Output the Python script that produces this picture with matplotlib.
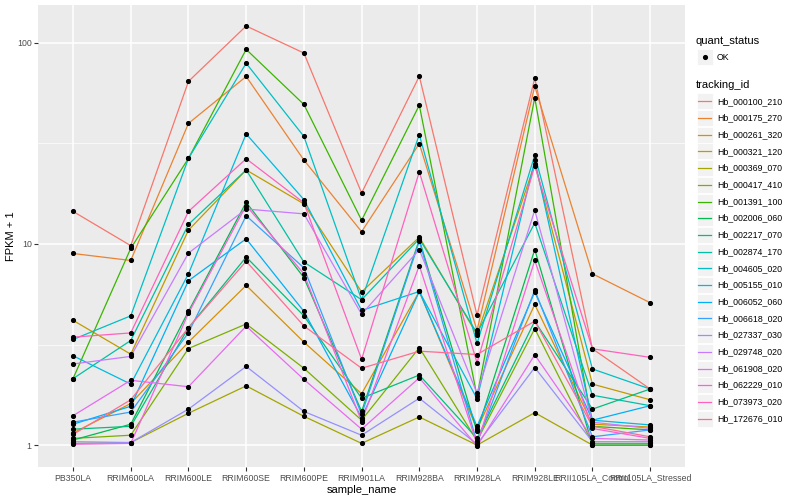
import numpy as np
from matplotlib import pyplot as plt
from matplotlib.lines import Line2D
from matplotlib.patches import Rectangle

plt.rcParams['font.family'] = ['Liberation Sans', 'DejaVu Sans']

samples = ["PB350LA", "RRIM600LA", "RRIM600LE", "RRIM600SE", "RRIM600PE",
           "RRIM901LA", "RRIM928BA", "RRIM928LA", "RRIM928LE",
           "RRII105LA_Control", "RRII105LA_Stressed"]

tracking_ids = ["Hb_000100_210", "Hb_000175_270", "Hb_000261_320", "Hb_000321_120",
                "Hb_000369_070", "Hb_000417_410", "Hb_001391_100", "Hb_002006_060",
                "Hb_002217_070", "Hb_002874_170", "Hb_004605_020", "Hb_005155_010",
                "Hb_006052_060", "Hb_006618_020", "Hb_027337_030", "Hb_029748_020",
                "Hb_061908_020", "Hb_062229_010", "Hb_073973_020", "Hb_172676_010"]

# FPKM + 1, one row per tracking_id, one column per sample
fpkm = [
    [14.5, 9.8, 64.2, 121, 88.8, 17.9, 68.1, 4.42, 66.6, 3.01, 1.90],
    [8.96, 8.27, 39.7, 67.9, 26.1, 11.5, 31.5, 3.72, 60.7, 7.1, 5.1],
    [1.15, 1.61, 3.25, 6.22, 3.25, 1.80, 5.8, 1.20, 5.0, 1.27, 1.23],
    [4.17, 2.83, 11.7, 23.3, 15.8, 5.77, 10.8, 3.54, 25.0, 2.01, 1.68],
    [1.02, 1.03, 1.44, 1.97, 1.39, 1.02, 1.38, 1.00, 1.45, 1.00, 1.00],
    [1.08, 1.12, 3.02, 4.0, 2.41, 1.33, 3.05, 1.05, 3.79, 1.02, 1.02],
    [2.14, 9.5, 26.6, 92.6, 49.3, 13.1, 48.9, 1.75, 53.3, 1.24, 1.19],
    [1.06, 1.27, 4.62, 16.1, 6.8, 1.47, 10.5, 1.17, 9.37, 1.00, 1.00],
    [1.20, 1.24, 3.83, 8.6, 4.39, 1.71, 2.23, 1.08, 4.13, 1.51, 1.90],
    [2.14, 3.31, 12.5, 23.3, 8.12, 5.28, 10.6, 3.6, 12.7, 1.77, 1.57],
    [3.35, 4.39, 26.6, 79, 34.2, 5.28, 34.9, 3.2, 27.6, 2.39, 1.90],
    [2.78, 2.01, 7.1, 35.2, 16.6, 4.67, 5.8, 1.70, 26.0, 1.33, 1.26],
    [1.27, 1.56, 6.56, 10.6, 4.62, 1.37, 5.8, 1.24, 5.77, 1.33, 1.57],
    [1.30, 1.46, 3.62, 13.8, 7.6, 1.42, 10.3, 1.03, 5.9, 1.10, 1.19],
    [1.04, 1.03, 1.51, 2.46, 1.47, 1.12, 1.71, 1.01, 2.43, 1.04, 1.04],
    [2.53, 2.76, 9.0, 14.9, 14.1, 4.47, 9.37, 1.81, 14.7, 1.30, 1.21],
    [1.40, 2.10, 1.95, 3.9, 2.12, 1.20, 2.16, 0.99, 2.81, 1.08, 1.06],
    [1.01, 1.02, 4.52, 15.5, 7.1, 1.31, 7.8, 1.01, 8.27, 1.21, 1.08],
    [3.44, 3.61, 14.5, 26.5, 16.0, 2.67, 22.8, 2.57, 24.4, 3.01, 2.73],
    [1.13, 1.68, 3.83, 8.2, 3.91, 2.41, 2.93, 2.82, 4.13, 1.24, 1.10],
]

colors = ["#F8766D", "#EA8331", "#D89000", "#C09B00", "#A3A500", "#7CAE00",
          "#39B600", "#00BB4E", "#00BF7D", "#00C1A3", "#00BFC4", "#00BAE0",
          "#00B0F6", "#35A2FF", "#9590FF", "#C77CFF", "#E76BF3", "#FA62DB",
          "#FF62BC", "#FF6C91"]

W, H = 800, 500
fig = plt.figure(figsize=(8, 5), dpi=100)
ax = fig.add_axes([0.048, 0.066, 0.808, 0.924])
ax.set_facecolor("#EBEBEB")

x = np.arange(1, len(samples) + 1)
for vals, c in zip(fpkm, colors):
    ax.plot(x, vals, color=c, lw=0.9, zorder=3)
for vals in fpkm:
    ax.plot(x, vals, ls="none", marker="o", ms=2.7, color="black", zorder=4)

ax.set_yscale("log")
ymin, ymax = 0.99, 121
lo, hi = np.log10(ymin), np.log10(ymax)
pad = (hi - lo) * 0.05
ax.set_ylim(10 ** (lo - pad), 10 ** (hi + pad))
ax.set_xlim(0.4, len(samples) + 0.6)

ax.set_yticks([1, 10, 100])
ax.set_yticklabels(["1", "10", "100"])
ax.set_yticks([10 ** 0.5, 10 ** 1.5], minor=True)
ax.yaxis.set_minor_formatter(plt.NullFormatter())
ax.set_xticks(x)
ax.set_xticklabels(samples)

ax.grid(True, which="major", color="white", lw=1.1, zorder=0)
ax.grid(True, which="minor", axis="y", color="white", lw=0.5, zorder=0)
ax.set_axisbelow(True)
for s in ax.spines.values():
    s.set_visible(False)
ax.tick_params(axis="both", which="major", length=2.8, width=0.8, color="#333333",
               labelsize=6.3, labelcolor="#4D4D4D", pad=2)
ax.tick_params(axis="y", which="minor", length=0)

ax.set_xlabel("sample_name", fontsize=8, labelpad=2)
ax.set_ylabel("FPKM + 1", fontsize=8)
ax.yaxis.set_label_coords(-0.034, 0.5)


# legends, drawn by hand in pixel positions (ggplot style grey keys)
def fx(px):
    return px / W


def fy(py):
    return 1 - py / H


key_x, key_w, key_h = 697, 16, 16
text_x = 717

fig.text(fx(696), fy(40.5), "quant_status", fontsize=8, va="center", ha="left")
fig.add_artist(Rectangle((fx(key_x), fy(57 + key_h / 2)), key_w / W, key_h / H,
                         transform=fig.transFigure, facecolor="#F2F2F2",
                         edgecolor="white", lw=0.6))
fig.add_artist(Line2D([fx(key_x + key_w / 2)], [fy(57)], transform=fig.transFigure,
                      ls="none", marker="o", ms=2.7, color="black"))
fig.text(fx(text_x), fy(57), "OK", fontsize=6.3, va="center", ha="left")

fig.text(fx(696), fy(85), "tracking_id", fontsize=8, va="center", ha="left")
pitch = 16.7
for i, (tid, c) in enumerate(zip(tracking_ids, colors)):
    yc = 101.3 + i * pitch
    fig.add_artist(Rectangle((fx(key_x), fy(yc + key_h / 2)), key_w / W, key_h / H,
                             transform=fig.transFigure, facecolor="#F2F2F2",
                             edgecolor="white", lw=0.6))
    fig.add_artist(Line2D([fx(key_x + 1), fx(key_x + key_w - 2)], [fy(yc), fy(yc)],
                          transform=fig.transFigure, color=c, lw=0.9))
    fig.text(fx(text_x), fy(yc), tid, fontsize=6.3, va="center", ha="left")

fig.savefig("out.png", dpi=100)
